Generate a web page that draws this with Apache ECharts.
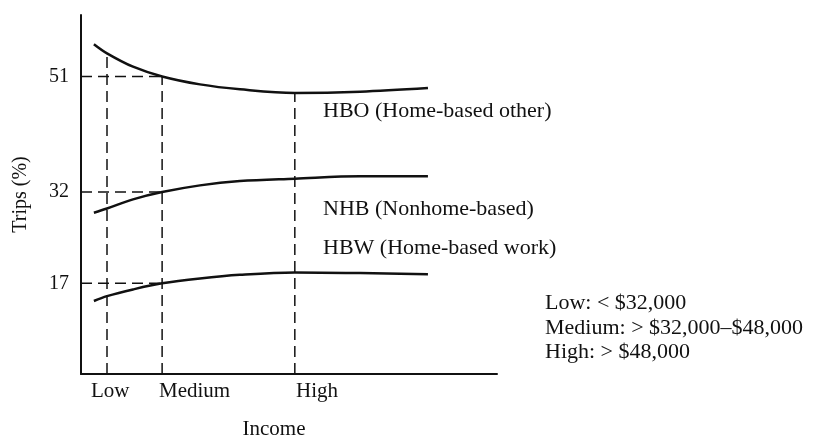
<!DOCTYPE html>
<html>
<head>
<meta charset="utf-8">
<script src="https://cdn.jsdelivr.net/npm/echarts@6/dist/echarts.min.js"></script>
<style>
	html, body { margin: 0; padding: 0; background: #fff; }
	#main { width: 822px; height: 437px; }
</style>
</head>
<body>
<div id="main"></div>
<script>
// income axis runs 0..100 (schematic), sample points along each curve
var incomeX = [3.1, 6.25, 12.5, 19.5, 28.6, 38.2, 51.4, 67.1, 83.4];
var hboTrips = [56.3, 54.8, 52.6, 51, 49.7, 48.9, 48.3, 48.5, 49.1];
var nhbTrips = [28.6, 29.3, 30.8, 32, 33.1, 33.8, 34.2, 34.6, 34.6];
var hbwTrips = [14.1, 14.9, 16.0, 17, 17.8, 18.4, 18.8, 18.7, 18.5];

var incomeLevels = ['Low', 'Medium', 'High'];
var levelIndex = [1, 3, 6]; // which sample is Low / Medium / High
var yTicks = [17, 32, 51];

var curveNames = [
	'HBO (Home-based other)',
	'NHB (Nonhome-based)',
	'HBW (Home-based work)'
];
var incomeNotes = [
	'Low: < $32,000',
	'Medium: > $32,000–$48,000',
	'High: > $48,000'
];

var yMin = 2.1, yMax = 61.1;
var font = "'Liberation Serif', 'DejaVu Serif', serif";
var ink = '#111';

function pairs(ys) {
	return ys.map(function(v, i) { return [incomeX[i], v]; });
}

var curveStyle = { color: ink, width: 2.5 };
var dashStyle = { color: ink, width: 1.5, type: [11, 6] };

function curve(name, ys) {
	return {
		name: name,
		type: 'line',
		data: pairs(ys),
		smooth: 0.35,
		showSymbol: false,
		lineStyle: curveStyle,
		silent: true,
		z: 3
	};
}

function dashed(pts) {
	return {
		type: 'line',
		data: pts,
		showSymbol: false,
		lineStyle: dashStyle,
		silent: true,
		z: 2
	};
}

var series = [
	curve(curveNames[0], hboTrips),
	curve(curveNames[1], nhbTrips),
	curve(curveNames[2], hbwTrips)
];

// horizontal guides from the y axis to Medium
var medX = incomeX[levelIndex[1]];
yTicks.forEach(function(t) {
	series.push(dashed([[0, t], [medX, t]]));
});
// vertical guides up to the HBO curve
levelIndex.forEach(function(k) {
	series.push(dashed([[incomeX[k], yMin], [incomeX[k], hboTrips[k]]]));
});

// label anchors (left edge of each word on the income axis)
var levelLabelAt = [2.4, 18.75, 51.7];

var myChart = echarts.init(document.getElementById('main'));
var option = {
	backgroundColor: '#fff',
	animation: false,
	grid: {
		left: 81,
		right: 325,
		top: 15,
		bottom: 63,
		containLabel: false,
		outerBoundsMode: 'none'
	},
	xAxis: {
		type: 'value',
		min: 0,
		max: 100,
		name: 'Income',
		nameLocation: 'middle',
		nameGap: 45,
		nameTextStyle: {
			fontFamily: font,
			fontSize: 21,
			color: ink,
			padding: [0, 30, 0, 0]
		},
		axisLine: { lineStyle: { color: ink, width: 2 } },
		axisTick: { show: false },
		splitLine: { show: false },
		axisLabel: {
			customValues: levelLabelAt,
			align: 'left',
			margin: 7,
			fontFamily: font,
			fontSize: 21,
			color: ink,
			formatter: function(v) {
				return incomeLevels[levelLabelAt.indexOf(v)] || '';
			}
		}
	},
	yAxis: {
		type: 'value',
		min: yMin,
		max: yMax,
		name: 'Trips (%)',
		nameLocation: 'middle',
		nameGap: 50,
		nameTextStyle: {
			fontFamily: font,
			fontSize: 20,
			color: ink
		},
		axisLine: { show: true, lineStyle: { color: ink, width: 2 } },
		axisTick: { show: false },
		splitLine: { show: false },
		axisLabel: {
			customValues: yTicks,
			margin: 12,
			fontFamily: font,
			fontSize: 20,
			color: ink
		}
	},
	graphic: [
		{ type: 'text', left: 323, top: 100, style: { text: curveNames[0], font: '22px ' + font, fill: ink } },
		{ type: 'text', left: 323, top: 198, style: { text: curveNames[1], font: '22px ' + font, fill: ink } },
		{ type: 'text', left: 323, top: 237, style: { text: curveNames[2], font: '22px ' + font, fill: ink } },
		{ type: 'text', left: 545, top: 292, style: { text: incomeNotes[0], font: '22px ' + font, fill: ink } },
		{ type: 'text', left: 545, top: 317, style: { text: incomeNotes[1], font: '22px ' + font, fill: ink } },
		{ type: 'text', left: 545, top: 341, style: { text: incomeNotes[2], font: '22px ' + font, fill: ink } }
	],
	series: series
};
myChart.setOption(option);
</script>
</body>
</html>
